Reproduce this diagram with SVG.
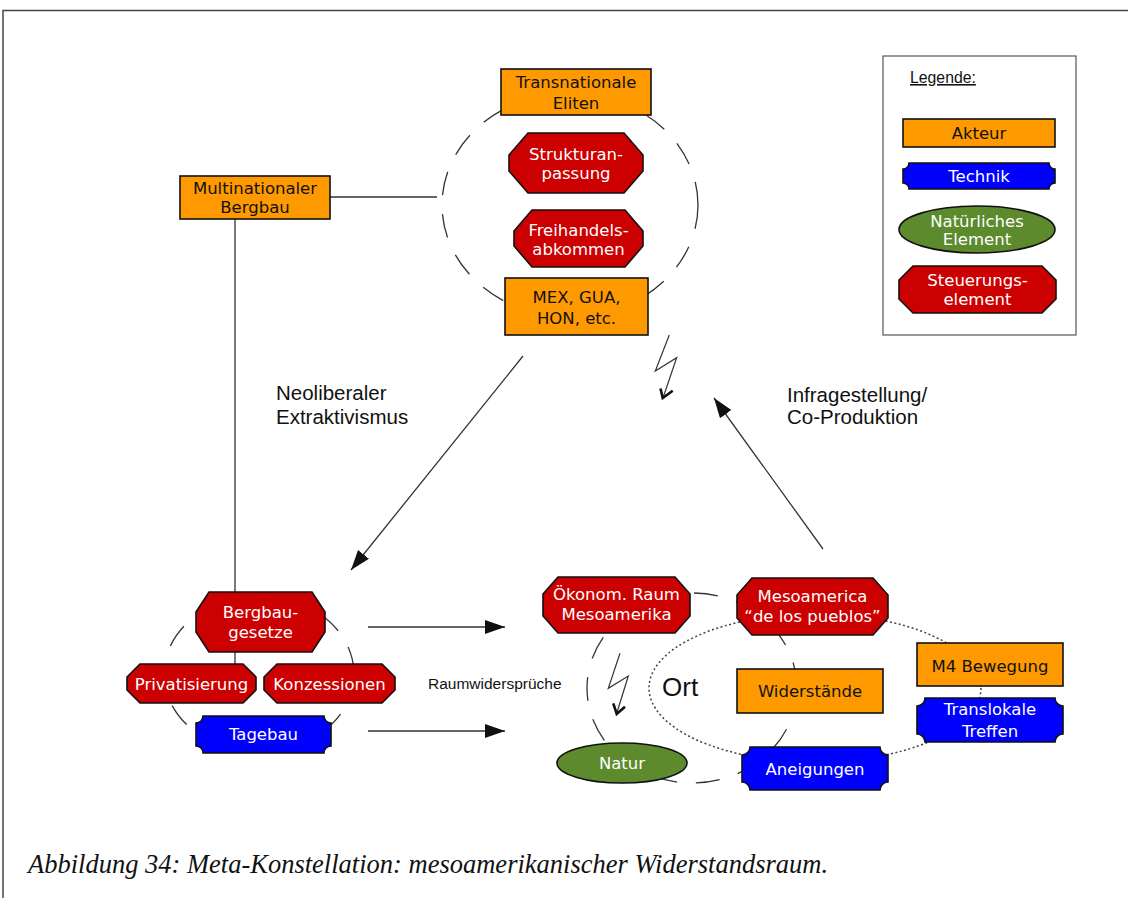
<svg xmlns="http://www.w3.org/2000/svg" width="1128" height="898" viewBox="0 0 1128 898">
  <style>
    .akteur { fill: #ff9900; stroke: #111; stroke-width: 1.6; }
    .steuer { fill: #cc0000; stroke: #111; stroke-width: 1.6; }
    .technik { fill: #0000ff; stroke: #111; stroke-width: 1.6; }
    .natur { fill: #5c8a2d; stroke: #111; stroke-width: 1.6; }
    .t { font-family: "DejaVu Sans", Verdana, sans-serif; font-size: 16.5px; text-anchor: middle; }
    .dark { fill: #111; }
    .light { fill: #fff; }
    .lbl { font-family: "Liberation Sans", Arial, sans-serif; fill: #111; }
    .link { stroke: #333; stroke-width: 1.3; fill: none; }
    .dash { stroke: #333; stroke-width: 1.3; fill: none; stroke-dasharray: 24 19; }
    .dots { stroke: #444; stroke-width: 1.5; fill: none; stroke-dasharray: 2 2.5; }
    .bolt { stroke: #333; stroke-width: 1.2; fill: none; stroke-linejoin: miter; }
    .bolthead { stroke: #111; stroke-width: 2.6; fill: none; stroke-linejoin: miter; }
  </style>
  <defs>
    <marker id="arrow" markerUnits="userSpaceOnUse" markerWidth="22" markerHeight="16" refX="20" refY="7" orient="auto">
      <path d="M0,0 L20,7 L0,14 z" fill="#111"/>
    </marker>
  </defs>

  <rect width="1128" height="898" fill="#fff"/>
  <!-- page frame -->
  <path d="M3,898 V10.5 H1128" fill="none" stroke="#444" stroke-width="1.5"/>

  <!-- connectors -->
  <g id="connectors">
    <line class="link" x1="330" y1="197" x2="437" y2="197"/>
    <line class="link" x1="235" y1="219" x2="235" y2="664"/>
    <ellipse class="dash" cx="570" cy="205" rx="128" ry="112"/>
    <ellipse class="dash" cx="259" cy="674" rx="95" ry="78"/>
    <ellipse class="dash" cx="692" cy="688" rx="105" ry="95"/>
    <ellipse class="dots" cx="815" cy="688" rx="166" ry="74"/>
    <line class="link" x1="523" y1="356" x2="351" y2="570" marker-end="url(#arrow)"/>
    <line class="link" x1="823" y1="549" x2="714" y2="398" marker-end="url(#arrow)"/>
    <line class="link" x1="368" y1="627" x2="505" y2="627" marker-end="url(#arrow)"/>
    <line class="link" x1="368" y1="731" x2="505" y2="731" marker-end="url(#arrow)"/>
    <polyline class="bolt" points="669.3,335 655.3,371 676.7,357.7 663.3,397"/>
    <polyline class="bolthead" points="660.5,388.5 662.7,398 672.7,390.7"/>
    <polyline class="bolt" points="620,653.3 608.3,688.3 628.3,676 617,712.5"/>
    <polyline class="bolthead" points="613.3,703.3 616.7,714 625,706.7"/>
  </g>

  <!-- free labels -->
  <text class="lbl" x="276" y="400" font-size="20.5">Neoliberaler</text>
  <text class="lbl" x="276" y="424" font-size="20.5">Extraktivismus</text>
  <text class="lbl" x="787" y="402" font-size="20.5">Infragestellung/</text>
  <text class="lbl" x="787" y="424" font-size="20.5">Co-Produktion</text>
  <text class="lbl" x="428" y="689" font-size="15.5">Raumwidersprüche</text>
  <text class="lbl" x="662" y="696" font-size="26">Ort</text>

  <!-- upper cluster -->
  <g id="transnationale-eliten">
    <rect class="akteur" x="501" y="69" width="150" height="46"/>
    <text class="t dark" x="576" y="88" font-size="17.5">Transnationale</text>
    <text class="t dark" x="576" y="109" font-size="17.5">Eliten</text>
  </g>
  <g id="strukturanpassung">
    <polygon class="steuer" points="528,133 624,133 643,155 643,171 624,193 528,193 509,171 509,155"/>
    <text class="t light" x="576" y="160" font-size="16.5">Strukturan-</text>
    <text class="t light" x="576" y="179" font-size="16.5">passung</text>
  </g>
  <g id="freihandelsabkommen">
    <polygon class="steuer" points="532,210 625,210 643,231 643,246 625,267 532,267 514,246 514,231"/>
    <text class="t light" x="578.5" y="236" font-size="15.8">Freihandels-</text>
    <text class="t light" x="578.5" y="255" font-size="15.8">abkommen</text>
  </g>
  <g id="mex-gua-hon">
    <rect class="akteur" x="505" y="278" width="143" height="57"/>
    <text class="t dark" x="576.5" y="303" font-size="17">MEX, GUA,</text>
    <text class="t dark" x="576.5" y="324" font-size="17">HON, etc.</text>
  </g>
  <g id="multinationaler-bergbau">
    <rect class="akteur" x="180" y="176" width="150" height="43"/>
    <text class="t dark" x="255" y="194" font-size="16.3">Multinationaler</text>
    <text class="t dark" x="255" y="213" font-size="16.3">Bergbau</text>
  </g>

  <!-- left cluster -->
  <g id="bergbaugesetze">
    <polygon class="steuer" points="209,592 312,592 325,612 325,632 312,652 209,652 196,632 196,612"/>
    <text class="t light" x="260.5" y="618" font-size="16.5">Bergbau-</text>
    <text class="t light" x="260.5" y="638" font-size="16.5">gesetze</text>
  </g>
  <g id="privatisierung">
    <polygon class="steuer" points="140,664 243,664 256,677 256,690 243,703 140,703 127,690 127,677"/>
    <text class="t light" x="191.5" y="690" font-size="15.2">Privatisierung</text>
  </g>
  <g id="konzessionen">
    <polygon class="steuer" points="277,664 382,664 395,677 395,690 382,703 277,703 264,690 264,677"/>
    <text class="t light" x="329.5" y="690" font-size="16.3">Konzessionen</text>
  </g>
  <g id="tagebau">
    <path class="technik" d="M203,716 H324 A7,7 0 0 0 331,723 V746 A7,7 0 0 0 324,753 H203 A7,7 0 0 0 196,746 V723 A7,7 0 0 0 203,716 Z"/>
    <text class="t light" x="263.5" y="740" font-size="16.5">Tagebau</text>
  </g>

  <!-- lower right cluster -->
  <g id="oekonom-raum">
    <polygon class="steuer" points="558,577 675,577 690,594 690,616 675,633 558,633 543,616 543,594"/>
    <text class="t light" x="616.5" y="600" font-size="14.5">Ökonom. Raum</text>
    <text class="t light" x="616.5" y="620" font-size="15.3">Mesoamerika</text>
  </g>
  <g id="mesoamerica-pueblos">
    <polygon class="steuer" points="752,578 873,578 888,595 888,618 873,635 752,635 737,618 737,595"/>
    <text class="t light" x="812.5" y="602" font-size="16.2">Mesoamerica</text>
    <text class="t light" x="812.5" y="622" font-size="16.2">“de los pueblos”</text>
  </g>
  <g id="widerstaende">
    <rect class="akteur" x="737" y="669" width="146" height="44"/>
    <text class="t dark" x="810" y="697" font-size="16.9">Widerstände</text>
  </g>
  <g id="natur">
    <ellipse class="natur" cx="622" cy="763" rx="65" ry="20"/>
    <text class="t light" x="622" y="769" font-size="17.5">Natur</text>
  </g>
  <g id="aneigungen">
    <path class="technik" d="M750,747 H880 A8,8 0 0 0 888,755 V782 A8,8 0 0 0 880,790 H750 A8,8 0 0 0 742,782 V755 A8,8 0 0 0 750,747 Z"/>
    <text class="t light" x="815" y="775" font-size="17.3">Aneigungen</text>
  </g>
  <g id="m4-bewegung">
    <rect class="akteur" x="917" y="643" width="146" height="43"/>
    <text class="t dark" x="990" y="672" font-size="17.2">M4 Bewegung</text>
  </g>
  <g id="translokale-treffen">
    <path class="technik" d="M925,698 H1055 A8,8 0 0 0 1063,706 V734 A8,8 0 0 0 1055,742 H925 A8,8 0 0 0 917,734 V706 A8,8 0 0 0 925,698 Z"/>
    <text class="t light" x="990" y="715" font-size="17.3">Translokale</text>
    <text class="t light" x="990" y="737" font-size="17.3">Treffen</text>
  </g>

  <!-- legend -->
  <g id="legend">
    <rect x="883" y="56" width="193" height="279" fill="#fff" stroke="#555" stroke-width="1.2"/>
    <text class="lbl" x="910" y="83" font-size="15.8" text-decoration="underline">Legende:</text>
    <g id="legend-akteur">
      <rect class="akteur" x="903" y="119" width="152" height="28"/>
      <text class="t dark" x="979" y="139" font-size="16.8">Akteur</text>
    </g>
    <g id="legend-technik">
      <path class="technik" d="M909,163 H1049 A6,6 0 0 0 1055,169 V183 A6,6 0 0 0 1049,189 H909 A6,6 0 0 0 903,183 V169 A6,6 0 0 0 909,163 Z"/>
      <text class="t light" x="979" y="182" font-size="16.4">Technik</text>
    </g>
    <g id="legend-natur">
      <ellipse class="natur" cx="977" cy="229.5" rx="78" ry="23.5"/>
      <text class="t light" x="977" y="227" font-size="16.4">Natürliches</text>
      <text class="t light" x="977" y="245" font-size="16.4">Element</text>
    </g>
    <g id="legend-steuerung">
      <polygon class="steuer" points="913,266 1042,266 1056,280 1056,299 1042,313 913,313 899,299 899,280"/>
      <text class="t light" x="977.5" y="286" font-size="16.5">Steuerungs-</text>
      <text class="t light" x="977.5" y="305" font-size="16.5">element</text>
    </g>
  </g>

  <!-- caption -->
  <text x="28" y="873" font-family="'Liberation Serif', 'Times New Roman', serif" font-style="italic" font-size="26.5" fill="#111">Abbildung 34: Meta-Konstellation: mesoamerikanischer Widerstandsraum.</text>
</svg>
